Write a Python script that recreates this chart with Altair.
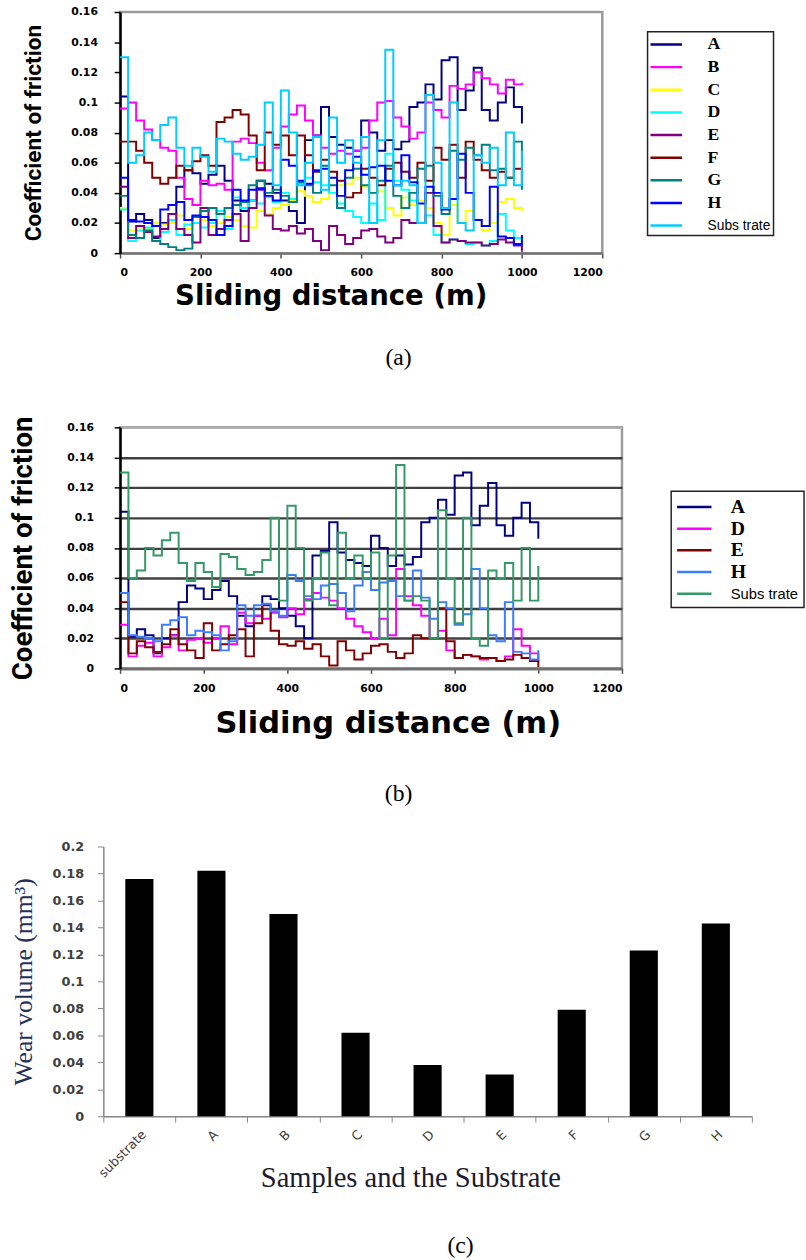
import altair as alt
import pandas as pd

# ---------------- data ----------------
distance = list(range(0, 1001, 20))  # sliding distance (m)

series_names = ["A", "B", "C", "D", "E", "F", "G", "H", "Subs trate"]

cof_A = [0.104, 0.021, 0.026, 0.022, 0.010, 0.020, 0.022, 0.044, 0.055, 0.053,
         0.046, 0.052, 0.058, 0.048, 0.035, 0.028, 0.035, 0.048, 0.046, 0.040,
         0.035, 0.028, 0.020, 0.075, 0.078, 0.097, 0.077, 0.072, 0.070, 0.068,
         0.088, 0.080, 0.068, 0.075, 0.069, 0.074, 0.097, 0.100, 0.112, 0.102,
         0.128, 0.130, 0.095, 0.108, 0.123, 0.095, 0.088, 0.100, 0.110, 0.097, 0.086]
cof_B = [0.096, 0.100, 0.088, 0.082, 0.075, 0.070, 0.068, 0.050, 0.036, 0.032,
         0.048, 0.045, 0.046, 0.042, 0.074, 0.076, 0.073, 0.060, 0.055, 0.070,
         0.084, 0.092, 0.098, 0.088, 0.078, 0.070, 0.066, 0.068, 0.066, 0.068,
         0.070, 0.088, 0.100, 0.101, 0.090, 0.084, 0.076, 0.080, 0.100, 0.095,
         0.090, 0.111, 0.109, 0.112, 0.120, 0.116, 0.112, 0.106, 0.115, 0.112, 0.113]
cof_C = [0.030, 0.015, 0.017, 0.016, 0.020, 0.019, 0.020, 0.025, 0.016, 0.020,
         0.022, 0.018, 0.020, 0.024, 0.022, 0.018, 0.017, 0.028, 0.026, 0.030,
         0.032, 0.035, 0.041, 0.038, 0.034, 0.036, 0.040, 0.045, 0.046, 0.050,
         0.044, 0.040, 0.041, 0.030, 0.025, 0.037, 0.032, 0.035, 0.030, 0.020,
         0.012, 0.032, 0.020, 0.028, 0.022, 0.015, 0.020, 0.034, 0.036, 0.030, 0.028]
cof_D = [0.029, 0.008, 0.015, 0.017, 0.008, 0.014, 0.022, 0.012, 0.019, 0.020,
         0.017, 0.020, 0.028, 0.016, 0.037, 0.030, 0.035, 0.033, 0.037, 0.034,
         0.040, 0.036, 0.046, 0.050, 0.047, 0.045, 0.040, 0.033, 0.028, 0.024,
         0.020, 0.033, 0.022, 0.066, 0.048, 0.042, 0.035, 0.020, 0.025, 0.012,
         0.007, 0.009, 0.008, 0.006, 0.007, 0.005, 0.008, 0.026, 0.015, 0.010, 0.004]
cof_E = [0.044, 0.010, 0.018, 0.014, 0.011, 0.016, 0.026, 0.016, 0.012, 0.007,
         0.030, 0.012, 0.016, 0.022, 0.026, 0.008, 0.030, 0.042, 0.025, 0.016,
         0.015, 0.018, 0.013, 0.016, 0.008, 0.002, 0.018, 0.012, 0.006, 0.010,
         0.015, 0.016, 0.011, 0.007, 0.010, 0.022, 0.020, 0.020, 0.040, 0.018,
         0.007, 0.009, 0.008, 0.007, 0.007, 0.005, 0.006, 0.009, 0.007, 0.005, 0.001]
cof_F = [0.074, 0.074, 0.068, 0.060, 0.050, 0.046, 0.050, 0.058, 0.055, 0.061,
         0.065, 0.058, 0.087, 0.090, 0.095, 0.092, 0.078, 0.055, 0.080, 0.072,
         0.078, 0.065, 0.078, 0.065, 0.054, 0.062, 0.054, 0.048, 0.037, 0.040,
         0.056, 0.050, 0.045, 0.056, 0.060, 0.054, 0.050, 0.060, 0.048, 0.070,
         0.062, 0.072, 0.050, 0.074, 0.062, 0.055, 0.050, 0.054, 0.050, 0.056, 0.044]
cof_G = [0.038, 0.012, 0.010, 0.015, 0.008, 0.006, 0.004, 0.002, 0.003, 0.024,
         0.028, 0.030, 0.026, 0.030, 0.032, 0.034, 0.045, 0.048, 0.040, 0.042,
         0.038, 0.034, 0.047, 0.045, 0.040, 0.058, 0.045, 0.030, 0.050, 0.056,
         0.045, 0.040, 0.048, 0.058, 0.038, 0.030, 0.040, 0.056, 0.058, 0.038,
         0.026, 0.068, 0.062, 0.070, 0.065, 0.072, 0.055, 0.056, 0.050, 0.074, 0.042]
cof_H = [0.050, 0.022, 0.021, 0.020, 0.018, 0.029, 0.032, 0.034, 0.022, 0.025,
         0.024, 0.022, 0.012, 0.018, 0.042, 0.035, 0.042, 0.043, 0.038, 0.035,
         0.062, 0.058, 0.048, 0.046, 0.055, 0.056, 0.050, 0.038, 0.055, 0.064,
         0.052, 0.057, 0.058, 0.048, 0.045, 0.065, 0.047, 0.033, 0.044, 0.040,
         0.029, 0.036, 0.066, 0.040, 0.022, 0.018, 0.044, 0.011, 0.010, 0.006, 0.012]
cof_S = [0.130, 0.060, 0.065, 0.080, 0.075, 0.085, 0.090, 0.070, 0.058, 0.070,
         0.064, 0.054, 0.076, 0.074, 0.066, 0.062, 0.064, 0.072, 0.100, 0.045,
         0.108, 0.080, 0.045, 0.060, 0.077, 0.042, 0.090, 0.060, 0.075, 0.060,
         0.077, 0.020, 0.075, 0.135, 0.045, 0.048, 0.045, 0.020, 0.105, 0.060,
         0.030, 0.100, 0.020, 0.015, 0.065, 0.060, 0.070, 0.045, 0.080, 0.045, 0.068]

colors_a = ["#000080", "#FF00FF", "#FFFF00", "#00FFFF", "#800080",
            "#800000", "#008080", "#0000FF", "#00CCFF"]
names_b = ["A", "D", "E", "H", "Subs trate"]
colors_b = ["#000080", "#FF00FF", "#800000", "#3D7BFF", "#339966"]

samples = ["substrate", "A", "B", "C", "D", "E", "F", "G", "H"]
wear = [0.176, 0.182, 0.150, 0.062, 0.038, 0.031, 0.079, 0.123, 0.143]

cof_ticks = [0, 0.02, 0.04, 0.06, 0.08, 0.1, 0.12, 0.14, 0.16]
dist_ticks = [0, 200, 400, 600, 800, 1000, 1200]
wear_ticks = [0, 0.02, 0.04, 0.06, 0.08, 0.1, 0.12, 0.14, 0.16, 0.18, 0.2]

values = {"A": cof_A, "B": cof_B, "C": cof_C, "D": cof_D, "E": cof_E,
          "F": cof_F, "G": cof_G, "H": cof_H, "Subs trate": cof_S}
rows = []
for name in series_names:
    for d, v in zip(distance, values[name]):
        rows.append({"distance": d, "cof": v, "series": name})
df = pd.DataFrame(rows)
df_b = df[df["series"].isin(names_b)]
df_c = pd.DataFrame({"sample": samples, "wear": wear})

TITLE_FONT = "Roboto"
SERIF = "Liberation Serif, Times New Roman, serif"
IS_SUB = "datum.label == 'Subs trate'"


def friction_panel(data, names, colors, width, yext, ytp, ytitle_size, xtp, xtitle_x,
                   xtitle_size, leg_x, leg_y, half_len, sym_off, leg_font, sub_font,
                   leg_off, leg_pad, row_pad, grid, caption):
    grid_color = {"condition": {"test": "datum.value >= 0.159", "value": "#b0b0b0"},
                  "value": "#404040"}
    y_axis = alt.Axis(
        values=cof_ticks, format="~g", title="Coefficient of friction",
        labelFont="DejaVu Sans", labelFontWeight="bold", labelFontSize=11, labelColor="black",
        labelPadding=yext - 6 - 30, tickSize=6, tickColor="black", tickWidth=1.5,
        domainColor="black", domainWidth=2.5, grid=grid, gridColor=grid_color, gridWidth=2.5,
        minExtent=yext, maxExtent=yext, titlePadding=ytp,
        titleFont=TITLE_FONT, titleFontWeight="bold", titleFontSize=ytitle_size,
        titleColor="black")
    x_axis = alt.Axis(
        values=dist_ticks, format="d", title="Sliding distance (m)",
        labelFont="DejaVu Sans", labelFontWeight="bold", labelFontSize=11, labelColor="black",
        labelPadding=9, tickSize=5, tickColor="#505050", tickWidth=1.5,
        domainColor="#707070", domainWidth=2.5, grid=False,
        minExtent=24, maxExtent=24, titlePadding=xtp, titleX=xtitle_x,
        titleFont="DejaVu Sans", titleFontWeight="bold", titleFontSize=xtitle_size,
        titleColor="black")
    legend = alt.Legend(
        title=None, orient="none", legendX=leg_x, legendY=leg_y, direction="vertical",
        symbolType=f"M-{half_len},0H{half_len}", symbolSize=306, symbolStrokeWidth=2.5,
        symbolOffset=sym_off,
        labelFont={"expr": f"{IS_SUB} ? 'Liberation Sans' : 'Liberation Serif'"},
        labelFontWeight={"expr": f"{IS_SUB} ? 'normal' : 'bold'"},
        labelFontSize={"expr": f"{IS_SUB} ? {sub_font} : {leg_font}"},
        labelColor="black", labelOffset=leg_off, labelLimit=200,
        strokeColor="#222222", fillColor="white", padding=leg_pad, rowPadding=row_pad)
    return alt.Chart(data).mark_line(interpolate="step-after", strokeWidth=2).encode(
        x=alt.X("distance:Q", scale=alt.Scale(domain=[0, 1200], nice=False), axis=x_axis),
        y=alt.Y("cof:Q", scale=alt.Scale(domain=[0, 0.16], nice=False), axis=y_axis),
        color=alt.Color("series:N", scale=alt.Scale(domain=names, range=colors),
                        legend=legend),
    ).properties(
        width=width, height=245,
        view=alt.ViewBackground(stroke="#9a9a9a", strokeWidth=2.5),
        title=caption,
    )


cap_font = dict(orient="bottom", anchor="middle", frame="group", font=SERIF,
                fontSize=24, fontWeight="normal", color="black")

chart_a = friction_panel(df, series_names, colors_a, 490, 53, 23, 23, 6, 214, 28,
                         536, 20, 1.83, 6, 18, 14, 32, 3, 4, False,
                         alt.TitleParams(["(a)", ""], dx=38, offset=37, lineHeight=10,
                                         **cap_font))
chart_b = friction_panel(df_b, names_b, colors_b, 510, 57, 27, 28, 17, 272, 31,
                         560, 65, 2.0, 7.5, 20, 15, 27, 6, 2, True,
                         alt.TitleParams("(b)", dx=28, offset=45, **cap_font))

chart_c = alt.Chart(df_c).mark_bar(color="black", width=alt.RelativeBandSize(0.39)).encode(
    x=alt.X("sample:N", sort=samples,
            scale=alt.Scale(range=[-17, 642], paddingInner=0, paddingOuter=0),
            axis=alt.Axis(title="Samples and the Substrate", labelAngle=-45,
                          labelFont="DejaVu Sans", labelFontSize=13, labelColor="#404040",
                          labelPadding=6, tickBand="extent", tickSize=6, tickColor="#868686",
                          domainColor="#868686", domainWidth=1.5, minExtent=30, maxExtent=30,
                          titlePadding=18, titleX=295, titleFont=SERIF, titleFontSize=29,
                          titleFontWeight="normal", titleColor="#1c1c30")),
    y=alt.Y("wear:Q", scale=alt.Scale(domain=[0, 0.2], nice=False),
            axis=alt.Axis(values=wear_ticks, format="~g", title="Wear volume (mm³)",
                          offset=17,
                          labelFont="DejaVu Sans", labelFontWeight="bold", labelFontSize=13,
                          labelColor="#404040", labelPadding=14, tickSize=6,
                          tickColor="#868686", domainColor="#868686", domainWidth=1.5,
                          grid=False, minExtent=55, maxExtent=55, titlePadding=13,
                          titleFont=SERIF, titleFontSize=26, titleFontWeight="normal",
                          titleColor="#22305a")),
).properties(
    width=642, height=274,
    view=alt.ViewBackground(strokeWidth=0),
    title=alt.TitleParams("(c)", dx=25, offset=43, **cap_font),
)

chart = alt.vconcat(chart_a, chart_b, chart_c, spacing=33).resolve_scale(
    x="independent", y="independent", color="independent"
).resolve_legend(color="independent").properties(
    padding={"left": 8, "top": -6, "right": 0, "bottom": 0},
    background="white",
).configure_legend(strokeWidth=1.5)

chart.save("out.html", embed_options={"renderer": "svg", "actions": False})
